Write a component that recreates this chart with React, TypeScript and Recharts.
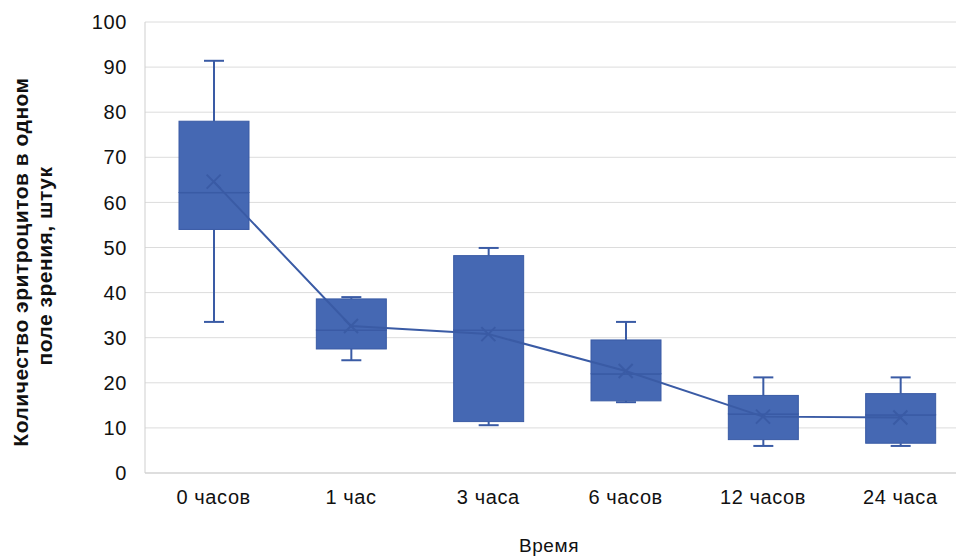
import React from "react";
import {
  ComposedChart,
  Bar,
  Line,
  XAxis,
  YAxis,
  CartesianGrid,
} from "recharts";

const categories = ["0 часов", "1 час", "3 часа", "6 часов", "12 часов", "24 часа"];
const whiskerLow = [33.5, 25, 10.6, 15.7, 6, 6];
const q1 = [54, 27.5, 11.4, 16, 7.4, 6.6];
const median = [62.2, 31.7, 31.7, 22, 13.1, 12.9];
const q3 = [78, 38.6, 48.2, 29.5, 17.2, 17.6];
const whiskerHigh = [91.4, 39, 49.9, 33.5, 21.2, 21.2];
const mean = [64.6, 32.6, 30.8, 22.6, 12.5, 12.3];
const yTicks = [0, 10, 20, 30, 40, 50, 60, 70, 80, 90, 100];

const BOX = "#4568b3";
const DARK = "#3a5ba5";
const FONT = "Liberation Sans, Arial, sans-serif";

const data = categories.map((name, i) => ({
  name,
  base: whiskerLow[i],
  lowW: q1[i] - whiskerLow[i],
  lowBox: median[i] - q1[i],
  highBox: q3[i] - median[i],
  highW: whiskerHigh[i] - q3[i],
  mean: mean[i],
}));

const WhiskerLow = (p: any) => {
  const { x, y, width, height } = p;
  const cx = x + width / 2;
  return (
    <g stroke={DARK} strokeWidth={2}>
      <line x1={cx} x2={cx} y1={y} y2={y + height} />
      <line x1={cx - 10} x2={cx + 10} y1={y + height} y2={y + height} />
    </g>
  );
};

const WhiskerHigh = (p: any) => {
  const { x, y, width, height } = p;
  const cx = x + width / 2;
  return (
    <g stroke={DARK} strokeWidth={2}>
      <line x1={cx} x2={cx} y1={y} y2={y + height} />
      <line x1={cx - 10} x2={cx + 10} y1={y} y2={y} />
    </g>
  );
};

const LowBox = (p: any) => {
  const { x, y, width, height } = p;
  return (
    <g>
      <rect x={x} y={y} width={width} height={height} fill={BOX} stroke={DARK} strokeWidth={1} />
      <line x1={x} x2={x + width} y1={y} y2={y} stroke={DARK} strokeWidth={2} />
    </g>
  );
};

const HighBox = (p: any) => {
  const { x, y, width, height } = p;
  return <rect x={x} y={y} width={width} height={height} fill={BOX} stroke={DARK} strokeWidth={1} />;
};

const MeanX = (p: any) => {
  const { cx, cy } = p;
  if (cx == null || cy == null) return null;
  const s = 7;
  return (
    <g stroke={DARK} strokeWidth={2}>
      <line x1={cx - s} y1={cy - s} x2={cx + s} y2={cy + s} />
      <line x1={cx - s} y1={cy + s} x2={cx + s} y2={cy - s} />
    </g>
  );
};

const YTitle = () => (
  <g fontFamily={FONT} fontWeight="bold" fontSize={21} letterSpacing={0.5} fill="#111">
    <text transform="translate(28,262) rotate(-90)" textAnchor="middle">
      Количество эритроцитов в одном
    </text>
    <text transform="translate(52,266) rotate(-90)" textAnchor="middle">
      поле зрения, штук
    </text>
  </g>
);

const tickStyle = { fill: "#111", fontSize: 20, fontFamily: FONT, letterSpacing: 0.6 };

export default function App() {
  return (
    <div
      style={{
        position: "absolute",
        left: 0,
        top: 0,
        width: 956,
        height: 557,
        overflow: "hidden",
        background: "#fff",
      }}
    >
      <ComposedChart
        width={970}
        height={557}
        data={data}
        margin={{ top: 22, right: 1, left: 0, bottom: 0 }}
      >
        <CartesianGrid vertical={false} stroke="#dcdcdc" />
        <XAxis
          dataKey="name"
          height={84}
          tickLine={false}
          tickSize={0}
          tickMargin={17}
          axisLine={{ stroke: "#cfcfcf" }}
          tick={tickStyle}
          label={{
            value: "Время",
            position: "insideBottom",
            offset: 5,
            dx: -8,
            fill: "#111",
            fontSize: 19,
            fontFamily: FONT,
            letterSpacing: 0.6,
          }}
        />
        <YAxis
          type="number"
          domain={[0, 100]}
          ticks={yTicks}
          width={145}
          tickLine={false}
          tickSize={0}
          tickMargin={18}
          axisLine={{ stroke: "#cfcfcf" }}
          tick={tickStyle}
          label={{ content: () => <YTitle /> }}
        />
        <Bar dataKey="base" stackId="b" fill="transparent" barSize={70} isAnimationActive={false} />
        <Bar dataKey="lowW" stackId="b" shape={WhiskerLow} barSize={70} isAnimationActive={false} />
        <Bar dataKey="lowBox" stackId="b" shape={LowBox} barSize={70} isAnimationActive={false} />
        <Bar dataKey="highBox" stackId="b" shape={HighBox} barSize={70} isAnimationActive={false} />
        <Bar dataKey="highW" stackId="b" shape={WhiskerHigh} barSize={70} isAnimationActive={false} />
        <Line
          dataKey="mean"
          stroke={DARK}
          strokeWidth={2}
          dot={MeanX}
          activeDot={false}
          isAnimationActive={false}
        />
      </ComposedChart>
    </div>
  );
}
